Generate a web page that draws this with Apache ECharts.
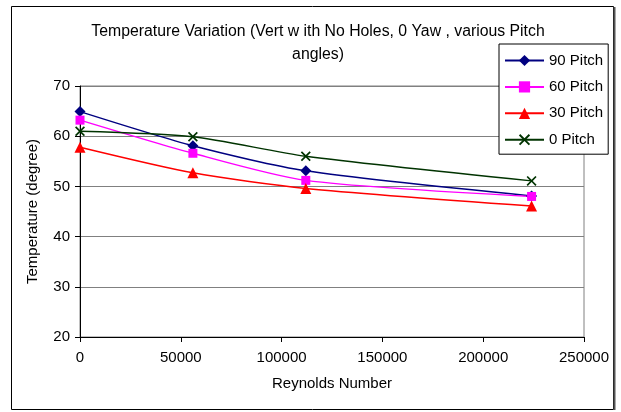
<!DOCTYPE html>
<html>
<head>
<meta charset="utf-8">
<script src="https://cdn.jsdelivr.net/npm/echarts@6/dist/echarts.min.js"></script>
<style>
  html, body { margin: 0; padding: 0; background: #fff; }
  #chart { width: 621px; height: 412px; }
</style>
</head>
<body>
<div id="chart"></div>
<script>
// Reynolds numbers tested
const reynolds = [0, 56000, 112000, 224000];

// Temperatures (degree) for each pitch angle
const pitch90 = [64.9, 58.1, 53.1, 48.1];
const pitch60 = [63.2, 56.6, 51.2, 48.0];
const pitch30 = [57.8, 52.7, 49.6, 46.1];
const pitch0  = [61.0, 59.9, 56.0, 51.1];

const seriesNames = ['90 Pitch', '60 Pitch', '30 Pitch', '0 Pitch'];

const titleLines = ['Temperature Variation (Vert w ith No Holes, 0 Yaw , various Pitch', 'angles)'];
const xAxisName = 'Reynolds Number';
const yAxisName = 'Temperature (degree)';

const FONT = '"Liberation Sans", Arial, sans-serif';
const CROSS = 'path://M0,1.2L1.2,0L5,3.8L8.8,0L10,1.2L6.2,5L10,8.8L8.8,10L5,6.2L1.2,10L0,8.8L3.8,5Z';

function pairs(ys) {
  return reynolds.map((x, i) => [x, ys[i]]);
}

function lineSeries(name, ys, color, symbol, size) {
  return {
    name: name,
    type: 'line',
    data: pairs(ys),
    smooth: 0.25,
    symbol: symbol,
    symbolSize: size,
    showAllSymbol: true,
    lineStyle: { color: color, width: 1.5 },
    itemStyle: { color: color },
    emphasis: { disabled: true },
    animation: false
  };
}

const chart = echarts.init(document.getElementById('chart'), null, { renderer: 'canvas' });

chart.setOption({
  backgroundColor: '#ffffff',
  animation: false,
  title: {
    text: titleLines.join('\n'),
    left: 313,
    top: 15,
    textAlign: 'center',
    textStyle: { fontFamily: FONT, fontSize: 15.8, fontWeight: 'normal', color: '#000', lineHeight: 23 }
  },
  legend: {
    orient: 'vertical',
    left: 499,
    top: 44,
    padding: [9, 5, 7, 5],
    itemGap: 11.4,
    itemWidth: 39,
    itemHeight: 14,
    backgroundColor: '#ffffff',
    borderColor: '#000000',
    borderWidth: 1,
    z: 10,
    data: seriesNames,
    textStyle: { fontFamily: FONT, fontSize: 15, color: '#000' }
  },
  grid: {
    left: 80,
    right: 37,
    top: 86,
    bottom: 75,
    show: true,
    borderColor: '#808080',
    borderWidth: 1,
    backgroundColor: '#ffffff'
  },
  xAxis: {
    type: 'value',
    min: 0,
    max: 250000,
    interval: 50000,
    name: xAxisName,
    nameLocation: 'middle',
    nameGap: 39,
    nameTextStyle: { fontFamily: FONT, fontSize: 15, color: '#000' },
    axisLine: { show: true, onZero: false, lineStyle: { color: '#000', width: 1 } },
    axisTick: { show: true, inside: false, length: 5, lineStyle: { color: '#000' } },
    axisLabel: { fontFamily: FONT, fontSize: 15, color: '#000', margin: 13, formatter: v => String(v) },
    splitLine: { show: false }
  },
  yAxis: {
    type: 'value',
    min: 20,
    max: 70,
    interval: 10,
    name: yAxisName,
    nameLocation: 'middle',
    nameGap: 40,
    nameRotate: 90,
    nameTextStyle: { fontFamily: FONT, fontSize: 15, color: '#000' },
    axisLine: { show: true, lineStyle: { color: '#000', width: 1 } },
    axisTick: { show: true, inside: false, length: 5, lineStyle: { color: '#000' } },
    axisLabel: { fontFamily: FONT, fontSize: 15, color: '#000', margin: 10 },
    splitLine: { show: true, lineStyle: { color: '#808080', width: 1 } }
  },
  series: [
    lineSeries(seriesNames[0], pitch90, '#000080', 'diamond', 11),
    lineSeries(seriesNames[1], pitch60, '#ff00ff', 'rect', 9),
    lineSeries(seriesNames[2], pitch30, '#ff0000', 'triangle', 11),
    lineSeries(seriesNames[3], pitch0,  '#003300', CROSS, 10)
  ],
  graphic: [
    {
      type: 'rect',
      shape: { x: 11.5, y: 6.5, width: 602, height: 403 },
      style: { fill: 'none', stroke: '#000', lineWidth: 1 },
      z: 100,
      silent: true
    },
    {
      type: 'line',
      shape: { x1: 614.5, y1: 7, x2: 614.5, y2: 410 },
      style: { stroke: '#555', lineWidth: 2 },
      z: 100,
      silent: true
    }
  ]
});
</script>
</body>
</html>
